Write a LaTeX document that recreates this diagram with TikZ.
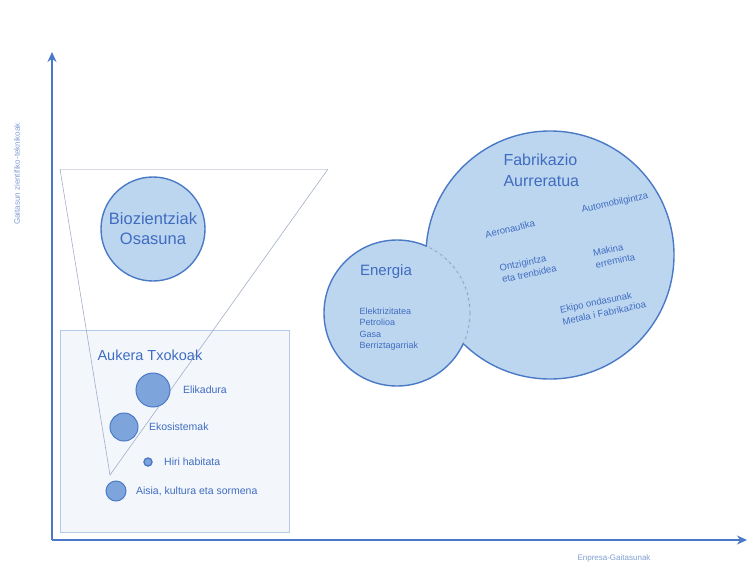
\documentclass[tikz,border=0pt]{standalone}
\usepackage{fontspec}
\setmainfont{Liberation Sans}
\usetikzlibrary{arrows.meta, positioning}
\definecolor{mAxis}{HTML}{4A78C8}
\definecolor{mRim}{HTML}{4A7AC5}
\definecolor{mFill}{HTML}{BDD6F0}
\definecolor{mDot}{HTML}{7EA5DB}
\definecolor{mText}{HTML}{3F6CC0}
\definecolor{mPale}{HTML}{7F9ED3}
\definecolor{mBox}{HTML}{F3F7FC}
\definecolor{mBoxRim}{HTML}{B4CAE9}
\definecolor{mFunnel}{HTML}{A3AFC8}
\definecolor{mSeam}{HTML}{8C97AC}

\tikzset{
  sector/.style={circle, draw=mRim, line width=1.4pt, fill=mFill, inner sep=0pt},
  niche/.style={circle, draw=mRim, line width=1pt, fill=mDot, inner sep=0pt},
  title/.style={text=mText, font=\fontsize{15}{19}\selectfont, align=center},
  item/.style={text=mText, font=\fontsize{9.5}{12}\selectfont, align=left},
  nicheitem/.style={text=mText, font=\fontsize{10.5}{12}\selectfont},
  axislabel/.style={text=mPale, font=\fontsize{8}{9}\selectfont},
}

\begin{document}
\begin{tikzpicture}[x=1pt, y=-1pt]
    \useasboundingbox (0,0) rectangle (747,574);
    % Aukera Txokoak box
    \node[draw=mBoxRim, fill=mBox, line width=0.8pt, minimum width=229pt,
          minimum height=202pt, anchor=north west] (box) at (60,330) {};
    % funnel
    \coordinate (fl) at (60,169);
    \coordinate (fr) at (328,169);
    \coordinate (fb) at (110,475);
    \draw[mFunnel!45, line width=0.8pt] (fl) -- (fr);
    \draw[mFunnel, line width=0.6pt] (fl) -- (fb) -- (fr);
    % sectors
    \node[sector, minimum size=104pt, title, font=\fontsize{16.5}{20}\selectfont] (bio) at (153,229) {Biozientziak\\Osasuna};
    \node[sector, minimum size=248pt] (fab) at (550,255) {};
    \node[sector, minimum size=146pt] (ener) at (397,313) {};
    % seam of Energia inside Fabrikazio
    \begin{scope}
      \clip (550,255) circle (123.3pt);
      \draw[mFill, line width=2.2pt] (397,313) circle (73pt);
      \draw[mSeam, line width=0.6pt, dashed] (397,313) circle (73pt);
    \end{scope}
    % Fabrikazio Aurreratua
    \node[title, font=\fontsize{16}{21}\selectfont, align=left, anchor=north west] (fabT) at (500,150) {Fabrikazio\\Aurreratua};
    \node[item, rotate=14] (aero) at (510,229) {Aeronautika};
    \node[item, rotate=12] (auto) at (615,203) {Automobilgintza};
    \node[item, rotate=12] (ontzi) at (528,268) {Ontzigintza\\eta trenbidea};
    \node[item, rotate=12] (makina) at (614,255) {Makina\\erreminta};
    \node[item, rotate=12] (ekipo) at (603,307) {Ekipo ondasunak\\Metala i Fabrikazioa};
    % Energia
    \node[title] (enerT) at (386,272) {Energia};
    \node[item, font=\fontsize{9}{11.5}\selectfont, anchor=north west] (enerI) at (356,304)
      {Elektrizitatea\\Petrolioa\\Gasa\\Berriztagarriak};
    % Aukera Txokoak
    \node[title, font=\fontsize{14.5}{17}\selectfont, anchor=west] (aukT) at (94,355) {Aukera Txokoak};
    \node[niche, minimum size=34pt] (elik) at (153,390) {};
    \node[nicheitem, right=9pt of elik] (elikT) {Elikadura};
    \node[niche, minimum size=28pt] (ekos) at (124,427) {};
    \node[nicheitem, right=7pt of ekos] (ekosT) {Ekosistemak};
    \node[niche, minimum size=8pt, line width=1.4pt] (hiri) at (148,462) {};
    \node[nicheitem, right=8pt of hiri] (hiriT) {Hiri habitata};
    \node[niche, minimum size=20pt] (aisia) at (116,491) {};
    \node[nicheitem, right=6pt of aisia] (aisiaT) {Aisia, kultura eta sormena};
    % axes
    \coordinate (origin) at (52,540);
    \coordinate (ytop) at (52,52);
    \coordinate (xend) at (747,540);
    \draw[mAxis, line width=2pt, -{Stealth[length=10pt, width=9pt]}] (origin) -- (ytop);
    \draw[mAxis, line width=2pt, -{Stealth[length=10pt, width=9pt]}] (origin) -- (xend);
    \node[axislabel, rotate=90] (ylab) at (17,174) {Gaitasun zientifiko-teknikoak};
    \node[axislabel] (xlab) at (614,558) {Enpresa-Gaitasunak};
\end{tikzpicture}
\end{document}
